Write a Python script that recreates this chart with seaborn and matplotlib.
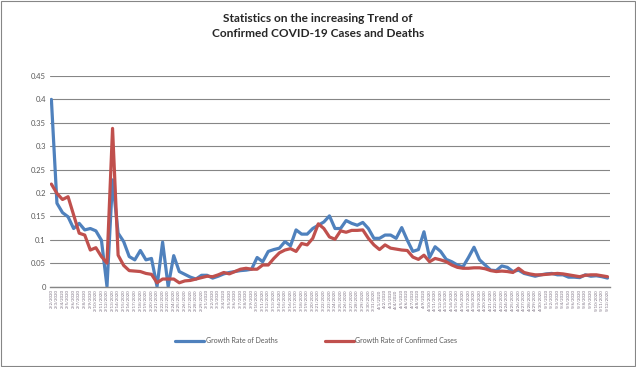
import pandas as pd
import seaborn as sns
import matplotlib.pyplot as plt
from matplotlib.patches import Rectangle

# categories (one per day), labels too small to read in the reference
dates = pd.date_range("2020-02-02", periods=101)
date_labels = [f"{d.month}/{d.day}/{d.year}" for d in dates]

# growth rate of deaths
deaths_rate = [
    0.400, 0.178, 0.158, 0.149, 0.124, 0.135, 0.121, 0.124, 0.119, 0.099,
    0.000, 0.228, 0.114, 0.096, 0.064, 0.057, 0.077, 0.057, 0.060, 0.000,
    0.095, 0.000, 0.066, 0.032, 0.026, 0.020, 0.016, 0.024, 0.024, 0.018,
    0.022, 0.027, 0.030, 0.032, 0.034, 0.035, 0.037, 0.062, 0.053, 0.075,
    0.079, 0.082, 0.096, 0.087, 0.121, 0.112, 0.112, 0.124, 0.131, 0.138,
    0.151, 0.124, 0.124, 0.141, 0.135, 0.131, 0.137, 0.124, 0.103, 0.103,
    0.110, 0.110, 0.103, 0.126, 0.099, 0.075, 0.079, 0.117, 0.062, 0.085,
    0.075, 0.058, 0.053, 0.046, 0.042, 0.062, 0.084, 0.057, 0.046, 0.035,
    0.034, 0.044, 0.041, 0.032, 0.035, 0.028, 0.025, 0.022, 0.025, 0.027,
    0.028, 0.025, 0.025, 0.020, 0.020, 0.019, 0.025, 0.022, 0.023, 0.021,
    0.018,
]

# growth rate of confirmed cases
cases_rate = [
    0.219, 0.199, 0.186, 0.192, 0.153, 0.114, 0.110, 0.078, 0.083, 0.064,
    0.050, 0.338, 0.067, 0.045, 0.034, 0.033, 0.032, 0.028, 0.026, 0.008,
    0.016, 0.016, 0.016, 0.008, 0.012, 0.013, 0.016, 0.019, 0.022, 0.021,
    0.025, 0.030, 0.027, 0.032, 0.037, 0.039, 0.037, 0.037, 0.046, 0.046,
    0.060, 0.072, 0.078, 0.081, 0.075, 0.092, 0.089, 0.103, 0.134, 0.124,
    0.106, 0.101, 0.119, 0.116, 0.120, 0.120, 0.121, 0.103, 0.089, 0.079,
    0.089, 0.082, 0.080, 0.078, 0.077, 0.063, 0.058, 0.067, 0.053, 0.060,
    0.057, 0.053, 0.046, 0.041, 0.039, 0.039, 0.040, 0.040, 0.038, 0.034,
    0.032, 0.033, 0.032, 0.030, 0.039, 0.030, 0.027, 0.025, 0.025, 0.026,
    0.027, 0.028, 0.027, 0.025, 0.023, 0.021, 0.024, 0.025, 0.025, 0.023,
    0.021,
]

series_names = ["Growth Rate of Deaths", "Growth Rate of Confirmed Cases"]
series_colors = ["#4F81BD", "#C0504D"]
y_ticks = [0, 0.05, 0.1, 0.15, 0.2, 0.25, 0.3, 0.35, 0.4, 0.45]
y_tick_labels = ["0", "0.05", "0.1", "0.15", "0.2", "0.25", "0.3", "0.35", "0.4", "0.45"]

#long table for seaborn
n = len(date_labels)
df = pd.DataFrame({
    "day": list(range(n)) * 2,
    "rate": deaths_rate + cases_rate,
    "series": [series_names[0]] * n + [series_names[1]] * n,
})

sns.set_style("white")
plt.rcParams["font.family"] = ["Lato", "DejaVu Sans"]

fig = plt.figure(figsize=(6.36, 3.67), dpi=100)
ax = fig.add_axes([0.0786, 0.2193, 0.8805, 0.5736])

sns.lineplot(data=df, x="day", y="rate", hue="series", palette=series_colors,
             linewidth=2.3, legend=False, ax=ax)

ax.set_xlim(-0.25, n - 1 + 0.45)
ax.set_ylim(0, 0.45)
ax.set_yticks(y_ticks)
ax.set_yticklabels(y_tick_labels)
ax.set_xticks(range(n))
ax.set_xticklabels(date_labels, rotation=90)
ax.tick_params(axis="y", labelsize=5.5, colors="#595959", length=0, pad=3)
ax.tick_params(axis="x", labelsize=3.2, colors="#7a6f80", length=0, pad=2)
ax.set_xlabel("")
ax.set_ylabel("")

#gridlines like the excel chart
ax.yaxis.grid(True, color="#868686", linewidth=0.8)
ax.set_axisbelow(True)
for side in ["top", "right", "left"]:
    ax.spines[side].set_visible(False)
ax.spines["bottom"].set_color("#868686")
ax.spines["bottom"].set_linewidth(1.0)

fig.suptitle("Statistics on the increasing Trend of\nConfirmed COVID-19 Cases and Deaths",
             x=0.5, y=0.965, fontsize=8.6, fontweight="bold", linespacing=1.45)

handles = ax.get_lines()[:2]
fig.legend(handles, series_names, loc="center", bbox_to_anchor=(0.497, 0.072), ncol=2,
           frameon=False, fontsize=5.0, handlelength=4.2, handletextpad=0.2,
           columnspacing=6.8, labelcolor="#595959")

# chart area border
fig.patches.append(Rectangle((0.001, 0.002), 0.997, 0.995, transform=fig.transFigure,
                             fill=False, edgecolor="#868686", linewidth=0.8))

fig.savefig("out.png", dpi=100)
